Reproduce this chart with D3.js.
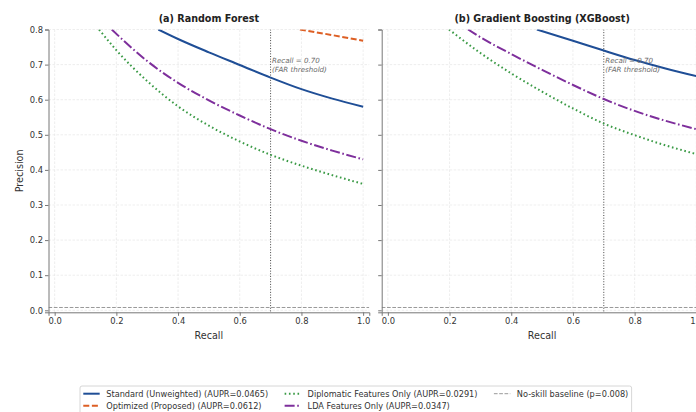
<!DOCTYPE html>
<html>
<head>
<meta charset="utf-8">
<script src="https://cdn.jsdelivr.net/npm/d3@7"></script>
<style>
    body { margin: 0; background: #fff; }
    svg { display: block; font-family: 'DejaVu Sans', sans-serif; }
</style>
</head>
<body>
<div id="chart"></div>
<script>
const recallTicks = [0, 0.2, 0.4, 0.6, 0.8, 1.0]
const precisionTicks = [0, 0.1, 0.2, 0.3, 0.4, 0.5, 0.6, 0.7, 0.8]

// [recall, precision] (cut at the 0.8 top)
const rfStandard = [[0.336, 0.80], [0.4, 0.773], [0.5, 0.735], [0.6, 0.699], [0.7, 0.663], [0.8, 0.630], [0.9, 0.603], [1.0, 0.58]]
const rfOptimized = [[0.795, 0.80], [0.9, 0.784], [1.0, 0.768]]
const rfDiplomatic = [[0.144, 0.80], [0.2, 0.741], [0.3, 0.653], [0.4, 0.581], [0.5, 0.526], [0.6, 0.481], [0.7, 0.443], [0.8, 0.412], [0.9, 0.385], [1.0, 0.36]]
const rfLda = [[0.185, 0.80], [0.3, 0.71], [0.4, 0.648], [0.5, 0.598], [0.6, 0.555], [0.7, 0.516], [0.8, 0.483], [0.9, 0.455], [1.0, 0.43]]

const xgbStandard = [[0.483, 0.80], [0.6, 0.768], [0.7, 0.740], [0.8, 0.713], [0.9, 0.689], [1.0, 0.667]]
const xgbDiplomatic = [[0.198, 0.80], [0.3, 0.733], [0.4, 0.675], [0.5, 0.623], [0.6, 0.575], [0.7, 0.532], [0.8, 0.499], [0.9, 0.47], [1.0, 0.445]]
const xgbLda = [[0.26, 0.80], [0.3, 0.778], [0.4, 0.73], [0.5, 0.685], [0.6, 0.642], [0.7, 0.602], [0.8, 0.568], [0.9, 0.54], [1.0, 0.516]]

const baselinePrecision = 0.008
const recallThreshold = 0.70

const legendLabels = [
    'Standard (Unweighted) (AUPR=0.0465)',
    'Optimized (Proposed) (AUPR=0.0612)',
    'Diplomatic Features Only (AUPR=0.0291)',
    'LDA Features Only (AUPR=0.0347)',
    'No-skill baseline (p=0.008)',
]

const styles = {
    standard: { color: '#1f4e96', width: 2, dash: null },
    optimized: { color: '#dd5f24', width: 2, dash: '6,2.6' },
    diplomatic: { color: '#3a9a45', width: 2, dash: '1.6,2.7' },
    lda: { color: '#7e2f9c', width: 2, dash: '10,2.6,1.6,2.6' },
    baseline: { color: '#999', width: 1, dash: '3.7,1.6' },
}

const width = 696
const height = 412

const svg = d3.select('#chart')
    .append('svg')
    .attr('width', width)
    .attr('height', height)

const panels = [
    {
        id: 'rf',
        title: '(a) Random Forest',
        left: 48.5,
        showYLabels: true,
        series: [['standard', rfStandard], ['optimized', rfOptimized], ['diplomatic', rfDiplomatic], ['lda', rfLda]],
    },
    {
        id: 'xgb',
        title: '(b) Gradient Boosting (XGBoost)',
        left: 381.7,
        showYLabels: false,
        series: [['standard', xgbStandard], ['diplomatic', xgbDiplomatic], ['lda', xgbLda]],
    },
]

const plotWidth = 320.8
const plotTop = 29.5
const plotBottom = 312.3

function drawPanel(panel) {
    const x = d3.scaleLinear().domain([-0.02, 1.02]).range([panel.left, panel.left + plotWidth])
    const y = d3.scaleLinear().domain([-0.0057, 0.8]).range([plotBottom, plotTop])

    const g = svg.append('g')

    g.append('clipPath')
        .attr('id', 'clip-' + panel.id)
        .append('rect')
        .attr('x', panel.left)
        .attr('y', plotTop)
        .attr('width', plotWidth)
        .attr('height', plotBottom - plotTop)

    // grid
    g.append('g')
        .selectAll('line')
        .data(recallTicks)
        .join('line')
        .attr('x1', d => x(d)).attr('x2', d => x(d))
        .attr('y1', plotTop).attr('y2', plotBottom)
        .attr('stroke', '#e6e6e6')
        .attr('stroke-width', 0.7)
        .attr('stroke-dasharray', '2.5,1.5')
    g.append('g')
        .selectAll('line')
        .data(precisionTicks)
        .join('line')
        .attr('x1', panel.left).attr('x2', panel.left + plotWidth)
        .attr('y1', d => y(d)).attr('y2', d => y(d))
        .attr('stroke', '#e6e6e6')
        .attr('stroke-width', 0.7)
        .attr('stroke-dasharray', '2.5,1.5')

    const plot = g.append('g').attr('clip-path', `url(#clip-${panel.id})`)

    // no-skill baseline
    plot.append('line')
        .attr('x1', panel.left).attr('x2', panel.left + plotWidth)
        .attr('y1', y(baselinePrecision)).attr('y2', y(baselinePrecision))
        .attr('stroke', styles.baseline.color)
        .attr('stroke-width', styles.baseline.width)
        .attr('stroke-dasharray', styles.baseline.dash)

    // threshold line
    plot.append('line')
        .attr('x1', x(recallThreshold)).attr('x2', x(recallThreshold))
        .attr('y1', plotTop).attr('y2', plotBottom)
        .attr('stroke', '#444')
        .attr('stroke-width', 1)
        .attr('stroke-dasharray', '1,1.65')

    const lineGenerator = d3.line()
        .x(d => x(d[0]))
        .y(d => y(d[1]))
        .curve(d3.curveMonotoneX)

    panel.series.forEach(([key, data]) => {
        const s = styles[key]
        plot.append('path')
            .attr('d', lineGenerator(data))
            .attr('fill', 'none')
            .attr('stroke', s.color)
            .attr('stroke-width', s.width)
            .attr('stroke-dasharray', s.dash)
    })

    const note = g.append('text')
        .attr('x', x(recallThreshold) + 1.5)
        .attr('y', y(0.711))
        .attr('font-size', 7.1)
        .attr('font-style', 'italic')
        .attr('fill', '#6a6a6a')
    note.append('tspan').attr('x', x(recallThreshold) + 1.5).attr('dy', '0.35em').text('Recall = 0.70')
    note.append('tspan').attr('x', x(recallThreshold) + 1.5).attr('dy', 9).text('(FAR threshold)')

    // axes
    const xAxis = d3.axisBottom(x).tickValues(recallTicks).tickFormat(d3.format('.1f')).tickSize(3.5).tickPadding(2.5)
    const yAxis = d3.axisLeft(y).tickValues(precisionTicks).tickSize(3.5).tickPadding(2)
        .tickFormat(panel.showYLabels ? d3.format('.1f') : '')

    const xg = g.append('g').attr('transform', `translate(0,${plotBottom})`).call(xAxis)
    const yg = g.append('g').attr('transform', `translate(${panel.left},0)`).call(yAxis)
    ;[xg, yg].forEach(ax => {
        ax.select('.domain').attr('stroke', '#777').attr('stroke-width', 1)
        ax.selectAll('.tick line').attr('stroke', '#777')
        ax.selectAll('.tick text')
            .attr('fill', '#333')
            .attr('font-size', 8.4)
            .attr('font-family', 'DejaVu Sans')
    })

    g.append('text')
        .attr('x', panel.left + plotWidth / 2)
        .attr('y', 22)
        .attr('text-anchor', 'middle')
        .attr('font-size', 9.6)
        .attr('font-weight', 'bold')
        .attr('fill', '#222')
        .text(panel.title)

    g.append('text')
        .attr('x', panel.left + plotWidth / 2)
        .attr('y', 338.5)
        .attr('text-anchor', 'middle')
        .attr('font-size', 9.6)
        .attr('fill', '#333')
        .text('Recall')

    if (panel.showYLabels) {
        g.append('text')
            .attr('transform', `translate(23,${(plotTop + plotBottom) / 2}) rotate(-90)`)
            .attr('text-anchor', 'middle')
            .attr('font-size', 9.6)
            .attr('fill', '#333')
            .text('Precision')
    }
}

panels.forEach(drawPanel)

// legend: 3 columns laid out from measured text widths, matplotlib spacing
const legendFont = 8.2
const handleLen = 2.0 * legendFont
const handlePad = 0.8 * legendFont
const colSpacing = 2.0 * legendFont
const legendLeft = 80
const legendKeys = ['standard', 'optimized', 'diplomatic', 'lda', 'baseline']
const legendColumns = [[0, 1], [2, 3], [4]]
const legendRows = [393.7, 405.8]

const legend = svg.append('g')
const frame = legend.append('rect')
    .attr('x', legendLeft).attr('y', 386)
    .attr('height', 32)
    .attr('rx', 2)
    .attr('fill', '#fff')
    .attr('stroke', '#ccc')
    .attr('stroke-width', 0.8)

let colX = legendLeft + 0.4 * legendFont
legendColumns.forEach(items => {
    let maxWidth = 0
    items.forEach((i, row) => {
        const s = styles[legendKeys[i]]
        legend.append('line')
            .attr('x1', colX).attr('x2', colX + handleLen)
            .attr('y1', legendRows[row]).attr('y2', legendRows[row])
            .attr('stroke', s.color)
            .attr('stroke-width', legendKeys[i] === 'baseline' ? 1 : 2)
            .attr('stroke-dasharray', s.dash)
        const label = legend.append('text')
            .attr('x', colX + handleLen + handlePad)
            .attr('y', legendRows[row])
            .attr('dy', '0.35em')
            .attr('font-size', legendFont)
            .attr('fill', '#333')
            .text(legendLabels[i])
        maxWidth = Math.max(maxWidth, label.node().getComputedTextLength())
    })
    colX += handleLen + handlePad + maxWidth + colSpacing
})
frame.attr('width', colX - colSpacing + 0.4 * legendFont - legendLeft)
</script>
</body>
</html>
